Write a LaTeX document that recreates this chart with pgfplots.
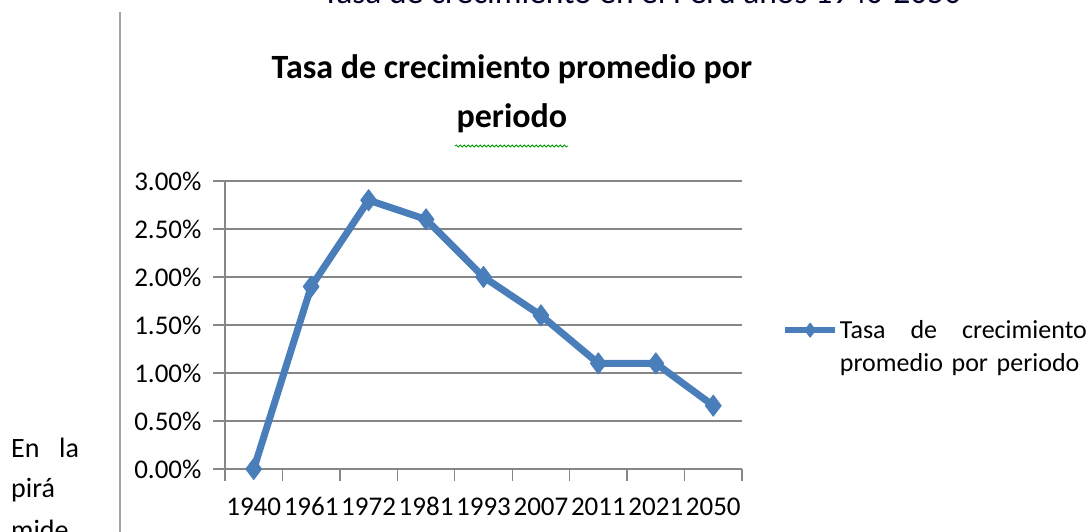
\documentclass[border=0pt]{standalone}
\usepackage{fontspec}
\setmainfont{Carlito}[Numbers={Lining,Monospaced}]
\usepackage{pgfplots}
\pgfplotsset{compat=1.18}
\usetikzlibrary{decorations.pathmorphing}
\definecolor{serie}{HTML}{4A7EBB}
\definecolor{gridc}{HTML}{868686}
\begin{document}
\begin{tikzpicture}[x=1pt,y=1pt]
\useasboundingbox (0,0) rectangle (1087,532);
\clip (0,0) rectangle (1087,532);
% surrounding document elements
\draw[color=gray!70, line width=1.3pt] (120,-5) -- (120,520);
\node[anchor=base, inner sep=0pt, font=\fontsize{33.5}{40}\selectfont, text=black!85!blue] at (642,528) {Tasa de crecimiento en el Perú años 1940-2050};
\node[anchor=base west, inner sep=0pt, font=\fontsize{28}{32}\selectfont] at (11,74) {En};
\node[anchor=base west, inner sep=0pt, font=\fontsize{28}{32}\selectfont] at (59,74) {la};
\node[anchor=base west, inner sep=0pt, font=\fontsize{28}{32}\selectfont] at (11,34) {pirá};
\node[anchor=base west, inner sep=0pt, font=\fontsize{28}{32}\selectfont] at (11,-8) {mide};
\begin{axis}[
  at={(225pt,63pt)}, anchor=south west, scale only axis,
  width=517pt, height=288pt,
  xmin=-0.5, xmax=8.5, ymin=0, ymax=3,
  axis lines*=left,
  axis line style={gridc, line width=1.3pt},
  tick style={gridc, line width=1.3pt},
  tick align=outside,
  major tick length=12pt,
  xtick={-0.5,0.5,...,8.5},
  xticklabels={,,,,,,,,,,},
  extra x ticks={0,1,2,3,4,5,6,7,8},
  extra x tick labels={1940,1961,1972,1981,1993,2007,2011,2021,2050},
  extra x tick style={major tick length=0pt, xticklabel style={yshift=-25pt, text height=18pt, text depth=0pt}},
  ytick={0,0.5,1,1.5,2,2.5,3},
  yticklabels={0.00\%,0.50\%,1.00\%,1.50\%,2.00\%,2.50\%,3.00\%},
  yticklabel style={xshift=-8pt},
  ymajorgrids,
  grid style={gridc, line width=1.3pt},
  tick label style={font=\fontsize{27}{30}\selectfont, text=black},
  /pgf/number format/assume math mode=true,
  title={Tasa de crecimiento promedio por\\periodo},
  title style={font=\fontsize{34}{49}\selectfont\bfseries, align=center,
    at={(axis description cs:0.555,1.146)}, anchor=south, inner sep=0pt},
  legend style={draw=none, fill=none, at={(axis description cs:1.072,0.482)},
    anchor=west, font=\fontsize{26}{33}\selectfont,
    cells={align=left, text width=247pt}},
  legend image code/.code={\draw[#1, line width=5.5pt, mark size=7pt, mark repeat=2, mark phase=2] plot coordinates {(0pt,0pt) (25pt,0pt) (50pt,0pt)};},
]
\addplot[color=serie, line width=7pt, line join=round, mark=diamond*, mark size=10.5pt,
  mark options={solid, fill=serie, draw=serie, line width=1pt}]
  coordinates {(0,0.0) (1,1.9) (2,2.8) (3,2.6) (4,2.0) (5,1.6) (6,1.1) (7,1.1) (8,0.66)};
\addlegendentry{Tasa\hfill de\hfill crecimiento\\promedio por periodo}
\end{axis}
\draw[green!60!black, line width=0.8pt, decorate, decoration={snake, amplitude=1pt, segment length=4pt}] (455,386) -- (568,386);
\end{tikzpicture}
\end{document}
